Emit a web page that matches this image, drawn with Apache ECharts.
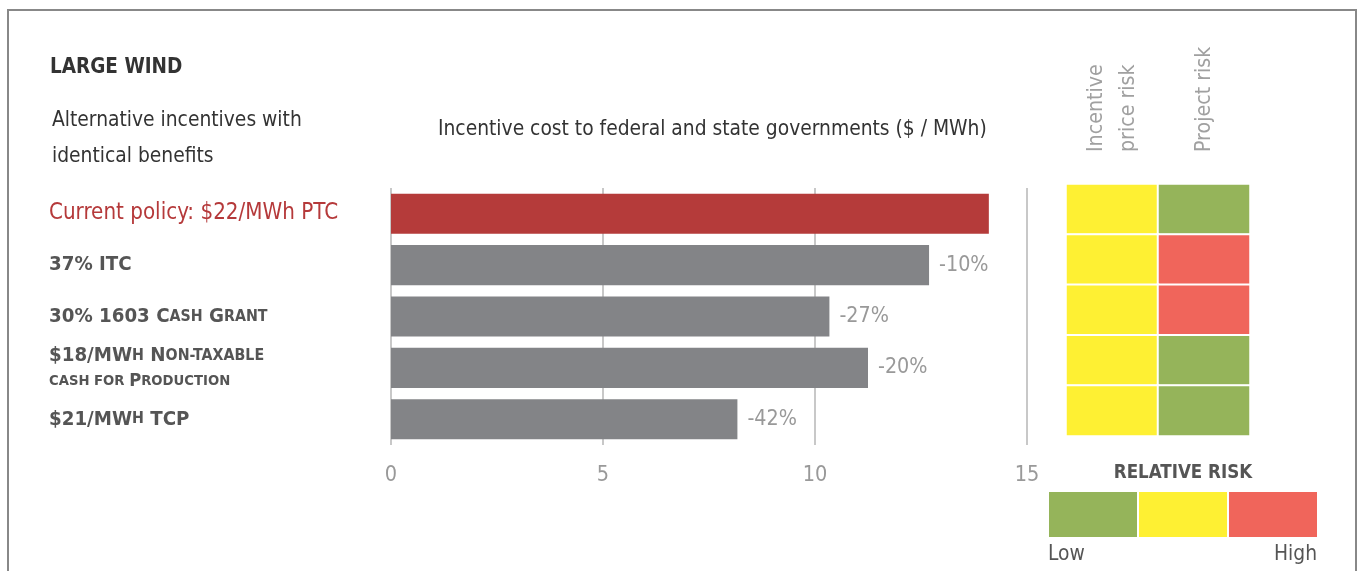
<!DOCTYPE html>
<html><head><meta charset="utf-8">
<script src="https://cdn.jsdelivr.net/npm/echarts@6/dist/echarts.min.js"></script>
<style>html,body{margin:0;padding:0;background:#fff}#c{width:1362px;height:571px}</style>
</head><body><div id="c"></div>
<script>
const categories = ['Current policy: $22/MWh PTC', '37% ITC', '30% 1603 Cash Grant', '$18/MWh Non-taxable cash for Production', '$21/MWh TCP'];
const costs = [14.1, 12.69, 10.34, 11.25, 8.17];
const changeLabels = ['', '-10%', '-27%', '-20%', '-42%'];
const riskColumns = ['Incentive\nprice risk', 'Project risk'];
const incentivePriceRisk = [1, 1, 1, 1, 1];   // 0 low, 1 medium, 2 high
const projectRisk = [0, 2, 2, 0, 0];
const riskLevels = ['Low', 'Medium', 'High'];
const riskColors = ['#95b45a', '#fef033', '#f0655b'];

const FONT = '"Liberation Sans Narrow", "DejaVu Sans Condensed", sans-serif';
const richLabels = [
  '{red|Current policy: $22/MWh PTC}',
  '{b|37% ITC}',
  '{b|30% 1603 C}{s|ASH}{b| G}{s|RANT}',
  '{b1|$18/MW}{s1|H}{b1| N}{s1|ON-TAXABLE}\n{s2|CASH FOR }{b2|P}{s2|RODUCTION}',
  '{b|$21/MW}{s|H}{b| TCP}'
];

const heatData = [];
categories.forEach((c, i) => {
  heatData.push([0, i, incentivePriceRisk[i]]);
  heatData.push([1, i, projectRisk[i]]);
});

const chart = echarts.init(document.getElementById('c'));
chart.setOption({
  backgroundColor: '#fff',
  animation: false,
  textStyle: { fontFamily: FONT },
  title: [
    { text: 'LARGE WIND', left: 45, top: 52, textStyle: { fontFamily: FONT, fontSize: 20.5, fontWeight: 'bold', color: '#333' } },
    { text: 'Alternative incentives with\nidentical benefits', left: 47, top: 98, textStyle: { fontFamily: FONT, fontSize: 20.8, fontWeight: 'normal', color: '#333', lineHeight: 36 } },
    { text: 'Incentive cost to federal and state governments ($ / MWh)', left: 433, top: 114, textStyle: { fontFamily: FONT, fontSize: 20.8, fontWeight: 'normal', color: '#333' } }
  ],
  grid: [
    { left: 391, top: 188, width: 636, height: 257 },
    { left: 1066, top: 184, width: 184, height: 252 }
  ],
  xAxis: [
    { gridIndex: 0, type: 'value', min: 0, max: 15, interval: 5,
      axisLine: { show: false }, axisTick: { show: false },
      splitLine: { show: true, lineStyle: { color: '#c8c8c8', width: 2 } },
      axisLabel: { color: '#999', fontSize: 21.5, margin: 19, fontFamily: FONT } },
    { gridIndex: 1, type: 'category', data: riskColumns, position: 'top',
      axisLine: { show: false }, axisTick: { show: false }, splitLine: { show: false },
      axisLabel: { rotate: -90, color: '#a0a0a0', fontSize: 21.2, margin: 32, lineHeight: 32, fontFamily: FONT } }
  ],
  yAxis: [
    { gridIndex: 0, type: 'category', data: categories, inverse: true,
      axisLine: { show: false }, axisTick: { show: false },
      axisLabel: { align: 'left', margin: 342,
        formatter: (v, i) => richLabels[i],
        rich: {
          red: { color: '#b5393a', fontSize: 22.2, fontFamily: FONT },
          b: { color: '#555', fontSize: 20.3, fontWeight: 'bold', fontFamily: FONT },
          s: { color: '#555', fontSize: 15.8, fontWeight: 'bold', fontFamily: FONT },
          b1: { color: '#555', fontSize: 20.3, fontWeight: 'bold', fontFamily: FONT, lineHeight: 27 },
          s1: { color: '#555', fontSize: 15.8, fontWeight: 'bold', fontFamily: FONT, lineHeight: 27 },
          b2: { color: '#555', fontSize: 18.3, fontWeight: 'bold', fontFamily: FONT, lineHeight: 24 },
          s2: { color: '#555', fontSize: 14.7, fontWeight: 'bold', fontFamily: FONT, lineHeight: 24 }
        } } },
    { gridIndex: 1, type: 'category', data: categories.map((c, i) => i), inverse: true, show: false }
  ],
  visualMap: { type: 'piecewise', show: false, seriesIndex: 1, dimension: 2,
    pieces: riskLevels.map((l, i) => ({ value: i, color: riskColors[i], label: l })) },
  series: [
    { type: 'bar', xAxisIndex: 0, yAxisIndex: 0, barWidth: '78%',
      data: costs.map((v, i) => ({ value: v, itemStyle: { color: i === 0 ? '#b53b3a' : '#838487' } })),
      label: { show: true, position: 'right', distance: 10, color: '#999', fontSize: 21.3, fontFamily: FONT,
        formatter: p => changeLabels[p.dataIndex] } },
    { type: 'heatmap', xAxisIndex: 1, yAxisIndex: 1, data: heatData,
      itemStyle: { borderColor: '#fff', borderWidth: 2 } }
  ],
  graphic: [
    { type: 'rect', shape: { x: 8, y: 10, width: 1348, height: 620 }, style: { fill: 'none', stroke: '#888', lineWidth: 2 }, silent: true },
    { type: 'text', x: 1183, y: 473, style: { text: 'RELATIVE RISK', fontFamily: FONT, fontSize: 18.6, fontWeight: 'bold', fill: '#555', align: 'center', verticalAlign: 'middle' } },
    { type: 'rect', shape: { x: 1049, y: 492, width: 88, height: 45 }, style: { fill: riskColors[0] } },
    { type: 'rect', shape: { x: 1139, y: 492, width: 88, height: 45 }, style: { fill: riskColors[1] } },
    { type: 'rect', shape: { x: 1229, y: 492, width: 88, height: 45 }, style: { fill: riskColors[2] } },
    { type: 'text', x: 1048, y: 555, style: { text: riskLevels[0], fontFamily: FONT, fontSize: 20.8, fill: '#555', align: 'left', verticalAlign: 'middle' } },
    { type: 'text', x: 1317, y: 555, style: { text: riskLevels[2], fontFamily: FONT, fontSize: 20.8, fill: '#555', align: 'right', verticalAlign: 'middle' } }
  ]
});
</script></body></html>
